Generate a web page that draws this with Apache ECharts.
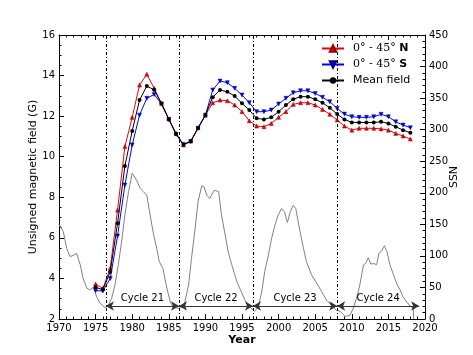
<!DOCTYPE html>
<html>
<head>
<meta charset="utf-8">
<script src="https://cdn.jsdelivr.net/npm/echarts@6/dist/echarts.min.js"></script>
<style>
  html, body { margin: 0; padding: 0; background: #fff; }
  #graph { width: 473px; height: 355px; }
</style>
</head>
<body>
<div id="graph"></div>
<script>
// yearly magnetic field values (G)
const years = [1975, 1976, 1977, 1978, 1979, 1980, 1981, 1982, 1983, 1984, 1985, 1986, 1987, 1988, 1989,
  1990, 1991, 1992, 1993, 1994, 1995, 1996, 1997, 1998, 1999, 2000, 2001, 2002, 2003, 2004,
  2005, 2006, 2007, 2008, 2009, 2010, 2011, 2012, 2013, 2014, 2015, 2016, 2017, 2018]
const northField = [3.72, 3.51, 4.5, 7.37, 10.5, 11.94, 13.53, 14.07, 13.37, 12.63, 11.86, 11.15, 10.58, 10.77, 11.43,
  12.05, 12.66, 12.79, 12.76, 12.55, 12.22, 11.77, 11.51, 11.48, 11.64, 11.94, 12.22, 12.58, 12.66, 12.66,
  12.55, 12.33, 12.09, 11.81, 11.51, 11.31, 11.4, 11.4, 11.4, 11.37, 11.31, 11.15, 11.02, 10.87]
const southField = [3.4, 3.38, 4.0, 6.09, 8.6, 10.58, 12.05, 12.88, 13.07, 12.6, 11.84, 11.1, 10.6, 10.75, 11.4,
  12.05, 13.29, 13.73, 13.65, 13.37, 13.04, 12.66, 12.22, 12.22, 12.3, 12.6, 12.88, 13.15, 13.25, 13.25,
  13.12, 12.93, 12.71, 12.38, 12.1, 11.97, 11.94, 11.94, 11.97, 12.09, 11.97, 11.72, 11.56, 11.43]
const meanField = [3.56, 3.45, 4.33, 6.72, 9.54, 11.27, 12.79, 13.48, 13.3, 12.62, 11.85, 11.12, 10.59, 10.76, 11.42,
  12.05, 12.93, 13.29, 13.2, 12.99, 12.63, 12.3, 11.89, 11.84, 11.94, 12.22, 12.55, 12.83, 12.96, 12.96,
  12.83, 12.66, 12.41, 12.1, 11.84, 11.69, 11.69, 11.69, 11.69, 11.72, 11.64, 11.48, 11.31, 11.18]

// smoothed sunspot number
const ssnYears = [1970.0, 1970.6, 1971.05, 1971.5, 1972.0, 1972.4, 1972.9, 1973.3, 1973.8, 1974.2, 1974.7,
  1975.15, 1975.6, 1976.3, 1976.7, 1977.2, 1977.65, 1978.1, 1978.55, 1979.0, 1979.5, 1980.0, 1980.6,
  1981.1, 1981.5, 1982.0, 1982.4, 1982.9, 1983.35, 1983.7, 1984.2, 1984.5, 1984.8, 1985.2, 1985.6,
  1986.3, 1986.75, 1987.2, 1987.7, 1988.1, 1988.6, 1989.0, 1989.5, 1989.8, 1990.2, 1990.6, 1991.2,
  1991.8, 1992.2, 1992.7, 1993.1, 1993.6, 1994.3, 1994.8, 1995.4, 1996.0, 1996.7, 1997.2, 1997.7,
  1998.1, 1998.6, 1999.05, 1999.5, 1999.95, 2000.4, 2000.8, 2001.2, 2001.6, 2002.0, 2002.35, 2002.8,
  2003.4, 2003.8, 2004.5, 2005.2, 2005.9, 2006.55, 2007.2, 2007.9, 2008.4, 2009.1, 2009.75, 2010.2,
  2010.65, 2011.1, 2011.6, 2011.9, 2012.25, 2012.6, 2012.95, 2013.4, 2013.7, 2014.1, 2014.45, 2014.8,
  2015.2, 2015.7, 2016.1, 2016.6, 2017.0, 2017.5, 2018.1, 2018.4, 2018.45]
const ssnValues = [150, 138, 112, 99, 101, 104, 86, 64, 49, 46, 50,
  35, 25, 18, 21, 33, 54, 86, 122, 165, 202, 231, 220,
  207, 202, 196, 168, 135, 112, 91, 80, 62, 46, 27, 19,
  17, 18, 27, 54, 96, 144, 186, 211, 210, 196, 191, 204,
  202, 165, 133, 107, 86, 59, 46, 30, 20, 12, 19, 43,
  75, 101, 128, 149, 165, 175, 170, 153, 170, 180, 175, 146,
  112, 91, 70, 57, 43, 30, 22, 14, 12, 4, 6, 17,
  33, 54, 86, 88, 97, 87, 88, 86, 104, 108, 116, 107,
  86, 70, 57, 46, 35, 27, 19, 17, 0]

// solar cycle boundaries and labels
const cycleStarts = [1976.4, 1986.4, 1996.5, 2008.0]
const lastCycleEnd = 2019.2
const cycleNames = ['Cycle 21', 'Cycle 22', 'Cycle 23', 'Cycle 24']
const arrowLevel = 2.64

const font = 'DejaVu Sans'

function pairs(xs, ys) {
  return xs.map((x, i) => [x, ys[i]])
}

function initGraph() {
  let graph = echarts.init(document.getElementById('graph'))

  const arrows = cycleStarts.map((start, i) => {
    const end = i < cycleStarts.length - 1 ? cycleStarts[i + 1] : lastCycleEnd
    return [
      { coord: [start, arrowLevel], name: cycleNames[i] },
      { coord: [end, arrowLevel] }
    ]
  })

  const plain = v => String(v)
  const tickCommon = {
    axisLine: { lineStyle: { color: '#000', width: 1 } },
    axisTick: { inside: true, length: 5, lineStyle: { color: '#000' } },
    splitLine: { show: false },
    nameMoveOverlap: false
  }
  const minor = n => ({ show: true, splitNumber: n, length: 2.5, lineStyle: { color: '#000' } })
  const labels = { color: '#000', fontFamily: font, fontSize: 10, margin: 4, formatter: plain }

  const option = {
    animation: false,
    grid: { left: 59, right: 48, top: 35, bottom: 36 },
    legend: {
      data: ['north', 'south', 'mean'],
      orient: 'vertical',
      left: 321,
      top: 43,
      padding: 0,
      itemWidth: 22,
      itemHeight: 8,
      itemGap: 5,
      textStyle: {
        color: '#000',
        fontFamily: font,
        fontSize: 11,
        padding: [0, 0, 0, 4],
        rich: {
          m: { fontFamily: 'DejaVu Serif', fontSize: 11, color: '#000' },
          b: { fontFamily: font, fontWeight: 'bold', fontSize: 11, color: '#000' }
        }
      },
      formatter: function (name) {
        if (name === 'north') return '{m|0° - 45° }{b|N}'
        if (name === 'south') return '{m|0° - 45° }{b|S}'
        return 'Mean field'
      }
    },
    xAxis: [
      Object.assign({}, tickCommon, {
        type: 'value', min: 1970, max: 2020, interval: 5,
        minorTick: minor(5),
        axisLabel: labels,
        name: 'Year', nameLocation: 'middle', nameGap: 16,
        nameTextStyle: { fontFamily: font, fontSize: 11, fontWeight: 'bold', color: '#000' }
      }),
      Object.assign({}, tickCommon, {
        type: 'value', min: 1970, max: 2020, interval: 5, position: 'top',
        minorTick: minor(5),
        axisLabel: { show: false }
      })
    ],
    yAxis: [
      Object.assign({}, tickCommon, {
        type: 'value', min: 2, max: 16, interval: 2,
        minorTick: minor(4),
        axisLabel: labels,
        name: 'Unsigned magnetic field (G)', nameLocation: 'middle', nameGap: 20,
        nameTextStyle: { fontFamily: font, fontSize: 11, color: '#000' }
      }),
      Object.assign({}, tickCommon, {
        type: 'value', min: 0, max: 450, interval: 50, position: 'right',
        minorTick: minor(5),
        axisLabel: labels,
        name: 'SSN', nameLocation: 'middle', nameGap: 24, nameRotate: 90,
        nameTextStyle: { fontFamily: font, fontSize: 11, color: '#000' }
      })
    ],
    series: [
      {
        name: 'ssn',
        type: 'line',
        yAxisIndex: 1,
        data: pairs(ssnYears, ssnValues),
        showSymbol: false,
        lineStyle: { color: '#808080', width: 1 },
        z: 1
      },
      {
        name: 'cycles',
        type: 'line',
        data: [],
        markLine: {
          silent: true,
          symbol: 'none',
          label: { show: false },
          lineStyle: { color: '#000', width: 1, type: [3, 2, 1, 2] },
          data: cycleStarts.map(x => ({ xAxis: x }))
        }
      },
      {
        name: 'arrows',
        type: 'line',
        data: [],
        markLine: {
          silent: true,
          symbol: ['arrow', 'arrow'],
          symbolSize: [7, 8],
          lineStyle: { color: '#333', width: 1, type: 'solid' },
          itemStyle: { color: '#000' },
          label: {
            show: true,
            position: 'middle',
            formatter: '{b}',
            color: '#000',
            fontFamily: font,
            fontSize: 10,
            distance: 3
          },
          data: arrows
        }
      },
      {
        name: 'north',
        type: 'line',
        data: pairs(years, northField),
        symbol: 'triangle',
        symbolSize: 4,
        lineStyle: { color: '#e8000b', width: 1 },
        itemStyle: { color: '#e8000b', borderColor: '#900', borderWidth: 0.5 },
        z: 4
      },
      {
        name: 'south',
        type: 'line',
        data: pairs(years, southField),
        symbol: 'triangle',
        symbolRotate: 180,
        symbolSize: 4,
        lineStyle: { color: '#0000ff', width: 1 },
        itemStyle: { color: '#0000ff', borderColor: '#000080', borderWidth: 0.5 },
        z: 4
      },
      {
        name: 'mean',
        type: 'line',
        data: pairs(years, meanField),
        symbol: 'circle',
        symbolSize: 4,
        lineStyle: { color: '#000', width: 1 },
        itemStyle: { color: '#000' },
        z: 5
      }
    ]
  }
  graph.setOption(option)
}

initGraph()
</script>
</body>
</html>
